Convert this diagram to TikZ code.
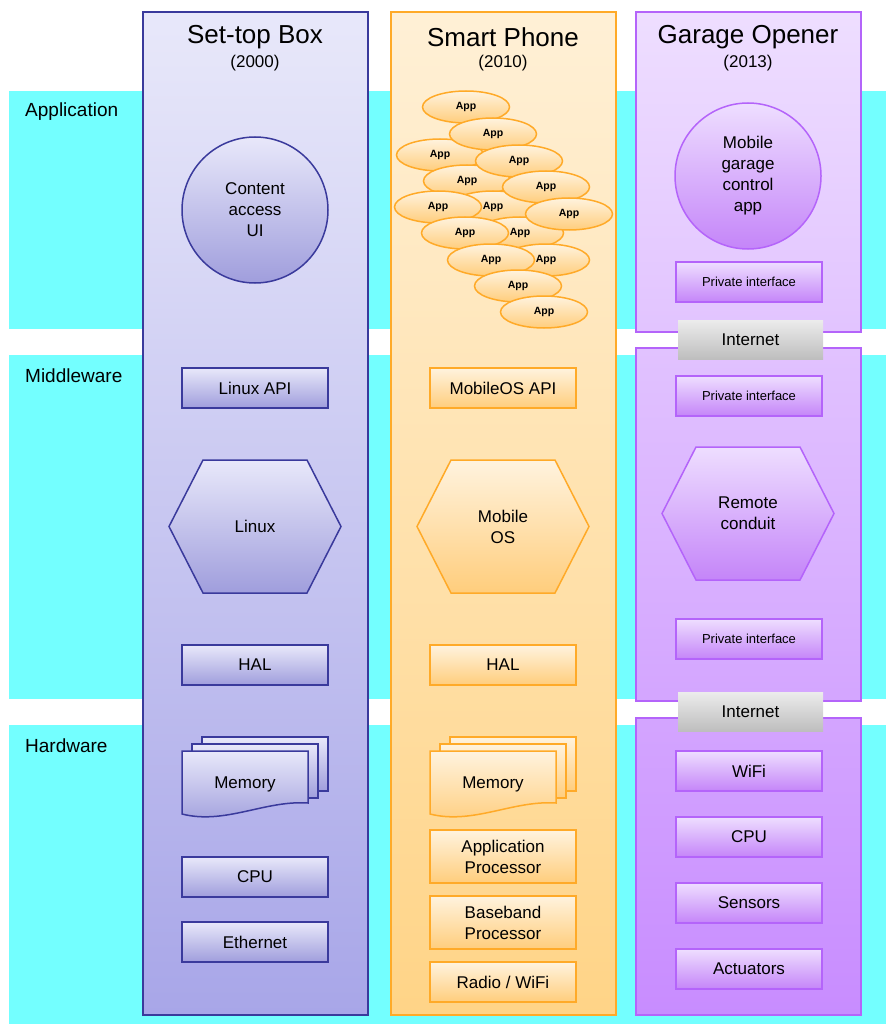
\documentclass[tikz,border=0pt]{standalone}
\usepackage{fontspec}
\setmainfont{Liberation Sans}
\usetikzlibrary{shapes.geometric}
\definecolor{band}{RGB}{115,255,255}
\definecolor{stbtop}{RGB}{232,232,250}
\definecolor{stbbot}{RGB}{168,166,232}
\definecolor{stbline}{RGB}{58,58,156}
\definecolor{phtop}{RGB}{255,240,214}
\definecolor{phbot}{RGB}{255,212,135}
\definecolor{phline}{RGB}{255,170,40}
\definecolor{gotop}{RGB}{238,222,255}
\definecolor{gobot}{RGB}{200,140,255}
\definecolor{goline}{RGB}{180,100,250}
\definecolor{nettop}{RGB}{236,236,236}
\definecolor{netbot}{RGB}{190,190,190}
\tikzset{>=stealth,
  txt/.style={font=\fontsize{17}{21}\selectfont, align=center},
  small/.style={font=\fontsize{13}{15}\selectfont},
  title/.style={font=\fontsize{26}{30}\selectfont},
  year/.style={font=\fontsize{17}{20}\selectfont},
  layer/.style={font=\fontsize{19}{22}\selectfont, anchor=west, inner sep=0pt},
  stbcol/.style={draw=stbline, line width=1.5pt, top color=stbtop, bottom color=stbbot},
  phcol/.style={draw=phline, line width=1.5pt, top color=phtop, bottom color=phbot},
  gocol/.style={draw=goline, line width=1.5pt},
  stbfill/.style={draw=stbline, line width=1.5pt, top color=stbtop, bottom color=stbbot!95!black},
  phfill/.style={draw=phline, line width=1.5pt, top color=phtop!80!white, bottom color=phbot!92!orange},
  gofill/.style={draw=goline, line width=1.5pt, top color=gotop, bottom color=gobot!95!violet},
  stbbox/.style={stbfill, txt, minimum width=146pt, minimum height=40pt, inner sep=0pt},
  phbox/.style={phfill, txt, minimum width=146pt, minimum height=40pt, inner sep=0pt},
  gobox/.style={gofill, txt, minimum width=146pt, minimum height=40pt, inner sep=0pt},
  netbox/.style={top color=nettop, bottom color=netbot, txt, minimum width=145pt, minimum height=39pt, inner sep=0pt},
  app/.style={ellipse, phfill, minimum width=87pt, minimum height=32pt, inner sep=0pt, font=\fontsize{10.5}{12}\bfseries\selectfont}
}
\newcommand\hexshape[3]{\draw[#3] (#1-86,#2) -- (#1-52,#2-66.5) -- (#1+52,#2-66.5) -- (#1+86,#2) -- (#1+52,#2+66.5) -- (#1-52,#2+66.5) -- cycle;}
\newcommand\memstack[2]{%
  \draw[#2] (#1+20,737) rectangle (#1+146,791);
  \draw[#2] (#1+10,744) rectangle (#1+136,798);
  \draw[#2] (#1,751) -- (#1+126,751) -- (#1+126,803) .. controls (#1+83,800) and (#1+43,825) .. (#1,814) -- cycle;}
\begin{document}
\begin{tikzpicture}[x=1pt, y=-1pt]
    \useasboundingbox (0,0) rectangle (886,1024);
    \fill[band] (9,91) rectangle (886,329);
    \fill[band] (9,355) rectangle (886,699);
    \fill[band] (9,725) rectangle (886,1024);
    \node[layer] (lapp) at (25,112) {Application};
    \node[layer] (lmid) at (25,376) {Middleware};
    \node[layer] (lhw) at (25,746) {Hardware};

    \draw[stbcol] (143,12) rectangle (368,1015);
    \node[title] (stb) at (255,37) {Set-top Box};
    \node[year] (stby) at (255,63) {(2000)};
    \node[stbfill, circle, minimum size=146pt, inner sep=0pt, txt] (content) at (255,210) {Content\\access\\UI};
    \node[stbbox] (linuxapi) at (255,388) {Linux API};
    \hexshape{255}{526.5}{stbfill}
    \node[txt] (linux) at (255,526.5) {Linux};
    \node[stbbox] (stbhal) at (255,665) {HAL};
    \memstack{182}{stbfill}
    \node[txt] (stbmem) at (245,784) {Memory};
    \node[stbbox] (stbcpu) at (255,877) {CPU};
    \node[stbbox] (ether) at (255,942) {Ethernet};

    \draw[phcol] (391,12) rectangle (616,1015);
    \node[title] (phone) at (503,37) {Smart Phone};
    \node[year] (phoney) at (503,63) {(2010)};
    \foreach \x/\y [count=\i] in {440/155, 467/181, 493/207, 520/233, 546/260, 466/107, 493/134, 519/161, 546/187, 569/214, 438/207, 465/233, 491/260, 518/286, 544/312}
      \node[app] (app\i) at (\x,\y) {App};
    \node[phbox] (mosapi) at (503,388) {MobileOS API};
    \hexshape{503}{526.5}{phfill}
    \node[txt] (mos) at (503,526.5) {Mobile\\OS};
    \node[phbox] (phhal) at (503,665) {HAL};
    \memstack{430}{phfill}
    \node[txt] (phmem) at (493,784) {Memory};
    \node[phbox, minimum height=53pt] (approc) at (503,856.5) {Application\\Processor};
    \node[phbox, minimum height=53pt] (bbproc) at (503,922.5) {Baseband\\Processor};
    \node[phbox] (radio) at (503,982) {Radio / WiFi};

    \draw[gocol, top color=gotop, bottom color=gotop!68!gobot] (636,12) rectangle (861,332);
    \draw[gocol, top color=gotop!66!gobot, bottom color=gotop!31!gobot] (636,348) rectangle (861,701);
    \draw[gocol, top color=gotop!30!gobot, bottom color=gobot] (636,718) rectangle (861,1015);
    \node[title] (garage) at (748,37) {Garage Opener};
    \node[year] (garagey) at (748,63) {(2013)};
    \node[gofill, circle, minimum size=146pt, inner sep=0pt, txt] (mgca) at (748,176) {Mobile\\garage\\control\\app};
    \node[gobox, small] (priv1) at (749,282) {Private interface};
    \node[netbox] (net1) at (750.5,339.5) {Internet};
    \node[gobox, small] (priv2) at (749,396) {Private interface};
    \hexshape{748}{513.5}{gofill}
    \node[txt] (conduit) at (748,513.5) {Remote\\conduit};
    \node[gobox, small] (priv3) at (749,639) {Private interface};
    \node[netbox] (net2) at (750.5,711.5) {Internet};
    \node[gobox] (wifi) at (749,771) {WiFi};
    \node[gobox] (gocpu) at (749,837) {CPU};
    \node[gobox] (sensors) at (749,903) {Sensors};
    \node[gobox] (act) at (749,969) {Actuators};
\end{tikzpicture}
\end{document}
